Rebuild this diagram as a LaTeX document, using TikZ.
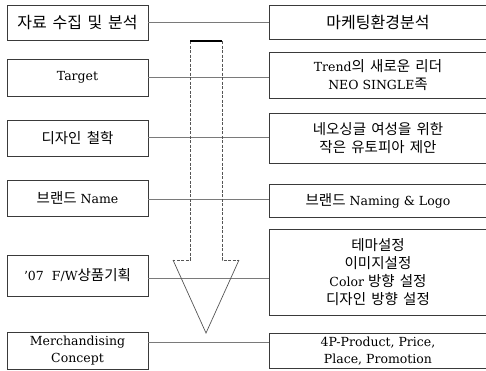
\documentclass[tikz,border=0pt]{standalone}
\usepackage{fontspec}
\setmainfont{DejaVu Serif}
\newfontfamily\krfont{Noto Sans CJK KR}[WordSpace=1.6]
\newcommand{\krt}[1]{{\krfont\fontsize{14.5}{17.5}\selectfont #1}}
\newcommand{\krb}[1]{{\krfont\fontsize{16}{18}\selectfont #1}}
\definecolor{boxc}{HTML}{3A3A3A}
\definecolor{connc}{HTML}{7A7A7A}
\definecolor{arrc}{HTML}{555555}
\tikzset{
  box/.style={draw=boxc, line width=0.8pt, align=center, inner sep=0pt,
    font=\fontsize{12.5}{17.5}\selectfont},
  lbox/.style={box, minimum width=141pt},
  rbox/.style={box, minimum width=218pt},
  conn/.style={draw=connc, line width=0.8pt},
  arrdash/.style={draw=arrc, line width=0.7pt, dash pattern=on 3pt off 1.5pt},
  arrside/.style={draw=arrc, line width=0.7pt},
  arrtop/.style={draw=black, line width=1.1pt}
}
\begin{document}
\begin{tikzpicture}[x=1pt,y=-1pt]
\useasboundingbox (0,0) rectangle (486,370);
\clip (0,0) rectangle (486,370);
% left boxes
\node[lbox, minimum height=35pt] (L1) at (77.5,22.5) {\krb{자료 수집 및 분석}};
\node[lbox, minimum height=37pt] (L2) at (77.5,77.5) {Target};
\node[lbox, minimum height=36pt] (L3) at (77.5,138) {\krt{디자인 철학}};
\node[lbox, minimum height=36pt] (L4) at (77.5,198) {\krt{브랜드} Name};
\node[lbox, minimum height=41pt] (L5) at (77.5,275.5) {’07\hspace{8pt}F/W\krt{상품기획}};
\node[lbox, minimum height=37pt, font=\fontsize{12.5}{17}\selectfont] (L6) at (77.5,351) {Merchandising\\Concept};
% right boxes
\node[rbox, minimum height=34pt] (R1) at (378,22) {\krb{마케팅환경분석}};
\node[rbox, minimum height=46pt] (R2) at (378,75) {Trend\krt{의 새로운 리더}\\NEO SINGLE\krt{족}};
\node[rbox, minimum height=50pt] (R3) at (378,138) {\krt{네오싱글 여성을 위한}\\\krt{작은 유토피아 제안}};
\node[rbox, minimum height=33pt] (R4) at (378,200.5) {\krt{브랜드} Naming \& Logo};
\node[rbox, minimum height=86pt, font=\fontsize{12.5}{18}\selectfont] (R5) at (378,272) {\krt{테마설정}\\\krt{이미지설정}\\Color \krt{방향 설정}\\\krt{디자인 방향 설정}};
\node[rbox, minimum height=35pt, font=\fontsize{12.5}{16.5}\selectfont] (R6) at (378,351) {4P-Product, Price,\\Place, Promotion};
% connectors
\draw[conn] (L1.east |- 0,22) -- (R1.west |- 0,22);
\draw[conn] (L2.east |- 0,77) -- (R2.west |- 0,77);
\draw[conn] (L3.east |- 0,137) -- (R3.west |- 0,137);
\draw[conn] (L4.east |- 0,199) -- (R4.west |- 0,199);
\draw[conn] (L5.east |- 0,278) -- (R5.west |- 0,278);
\draw[conn] (L6.east |- 0,342) -- (R6.west |- 0,342);
% big hollow arrow
\draw[arrdash] (190,41) -- (190,260) -- (173,260);
\draw[arrdash] (222,41) -- (222,260) -- (239,260);
\draw[arrside] (173,260) -- (206,333) -- (239,260);
\draw[arrtop] (190,41) -- (222,41);
\end{tikzpicture}
\end{document}
